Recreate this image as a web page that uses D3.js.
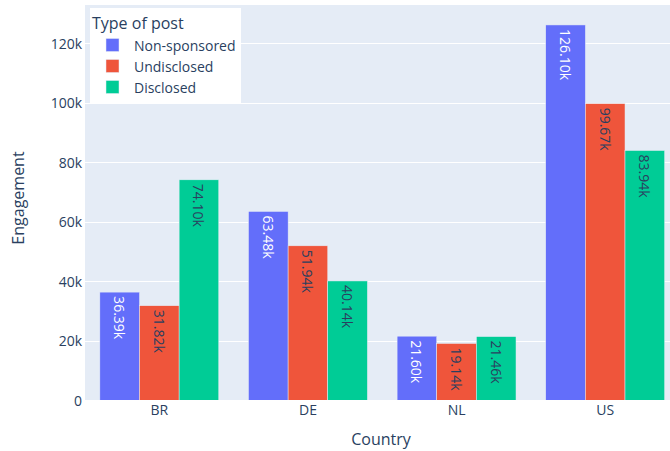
<!DOCTYPE html>
<html>
<head>
<meta charset="utf-8">
<script src="https://cdn.jsdelivr.net/npm/d3@7"></script>
<style>
  html, body { margin: 0; padding: 0; background: #fff; }
  svg { display: block; font-family: "Open Sans", verdana, arial, sans-serif; }
</style>
</head>
<body>
<svg id="chart" width="670" height="451"></svg>
<script>
const countries = ["BR", "DE", "NL", "US"];
const seriesNames = ["Non-sponsored", "Undisclosed", "Disclosed"];
const nonSponsored = [36390, 63480, 21600, 126100];
const undisclosed = [31820, 51940, 19140, 99670];
const disclosed = [74100, 40140, 21460, 83940];
const barLabels = [
  ["36.39k", "63.48k", "21.60k", "126.10k"],
  ["31.82k", "51.94k", "19.14k", "99.67k"],
  ["74.10k", "40.14k", "21.46k", "83.94k"]
];
const yTicks = [0, 20000, 40000, 60000, 80000, 100000, 120000];
const yTickLabels = ["0", "20k", "40k", "60k", "80k", "100k", "120k"];
const colors = ["#636EFA", "#EF553B", "#00CC96"];
const textColors = ["#ffffff", "#2a3f5f", "#2a3f5f"];
const seriesValues = [nonSponsored, undisclosed, disclosed];

const svg = d3.select("#chart");
const pLeft = 85, pRight = 679.5, pTop = 5, pBottom = 400.5;

const x = d3.scaleBand().domain(countries).range([pLeft, pRight]).paddingInner(0.2).paddingOuter(0.1);
const xOuter = d3.scaleBand().domain(countries).range([pLeft, pRight]);
const xSub = d3.scaleBand().domain(seriesNames).range([0, x.bandwidth()]);
const y = d3.scaleLinear().domain([0, 132800]).range([pBottom, pTop]);

svg.append("defs").append("clipPath").attr("id", "plotclip")
  .append("rect").attr("x", pLeft).attr("y", pTop).attr("width", pRight - pLeft).attr("height", pBottom - pTop);

svg.append("rect").attr("x", pLeft).attr("y", pTop).attr("width", pRight - pLeft).attr("height", pBottom - pTop)
  .attr("fill", "#E5ECF6");

// grid
svg.append("g").selectAll("line").data(yTicks.slice(1)).join("line")
  .attr("x1", pLeft).attr("x2", pRight)
  .attr("y1", d => Math.round(y(d)) + 0.5).attr("y2", d => Math.round(y(d)) + 0.5)
  .attr("stroke", "#fff").attr("stroke-width", 1);

// bars
const plot = svg.append("g").attr("clip-path", "url(#plotclip)");
seriesNames.forEach((s, si) => {
  const g = plot.append("g");
  g.selectAll("rect").data(countries).join("rect")
    .attr("x", (c) => x(c) + xSub(s))
    .attr("y", (c, i) => y(seriesValues[si][i]))
    .attr("width", xSub.bandwidth())
    .attr("height", (c, i) => y(0) - y(seriesValues[si][i]))
    .attr("fill", colors[si])
    .attr("stroke", "#E5ECF6").attr("stroke-width", 0.5);
  g.selectAll("text").data(countries).join("text")
    .attr("transform", (c, i) => `translate(${x(c) + xSub(s) + xSub.bandwidth() / 2},${y(seriesValues[si][i]) + 4}) rotate(90)`)
    .attr("text-anchor", "start")
    .attr("dominant-baseline", "central")
    .attr("font-size", 14)
    .attr("fill", textColors[si])
    .text((c, i) => barLabels[si][i]);
});

// zero line
svg.append("line").attr("x1", pLeft).attr("x2", pRight).attr("y1", y(0)).attr("y2", y(0))
  .attr("stroke", "#fff").attr("stroke-width", 1);

// y axis labels
svg.append("g").selectAll("text").data(yTicks).join("text")
  .attr("x", 82).attr("y", d => y(d))
  .attr("text-anchor", "end").attr("dominant-baseline", "central")
  .attr("font-size", 14).attr("fill", "#2a3f5f")
  .text((d, i) => yTickLabels[i]);

// x axis labels
svg.append("g").selectAll("text").data(countries).join("text")
  .attr("x", d => xOuter(d) + xOuter.bandwidth() / 2).attr("y", 415)
  .attr("text-anchor", "middle")
  .attr("font-size", 14).attr("fill", "#2a3f5f")
  .text(d => d);

// axis titles
svg.append("text").attr("x", 381).attr("y", 445).attr("text-anchor", "middle")
  .attr("font-size", 16).attr("fill", "#2a3f5f").text("Country");
svg.append("text").attr("transform", "translate(24,198) rotate(-90)").attr("text-anchor", "middle")
  .attr("font-size", 16).attr("fill", "#2a3f5f").text("Engagement");

// legend
const lg = svg.append("g");
lg.append("rect").attr("x", 90).attr("y", 8).attr("width", 151).attr("height", 95).attr("fill", "#fff");
lg.append("text").attr("x", 92).attr("y", 29).attr("font-size", 16).attr("fill", "#2a3f5f").text("Type of post");
seriesNames.forEach((s, i) => {
  const cy = 45 + i * 21;
  lg.append("rect").attr("x", 106).attr("y", cy - 6.5).attr("width", 13).attr("height", 13)
    .attr("fill", colors[i]).attr("stroke", "#E5ECF6").attr("stroke-width", 0.5);
  lg.append("text").attr("x", 134).attr("y", cy).attr("dominant-baseline", "central")
    .attr("font-size", 14).attr("fill", "#2a3f5f").text(s);
});
</script>
</body>
</html>
